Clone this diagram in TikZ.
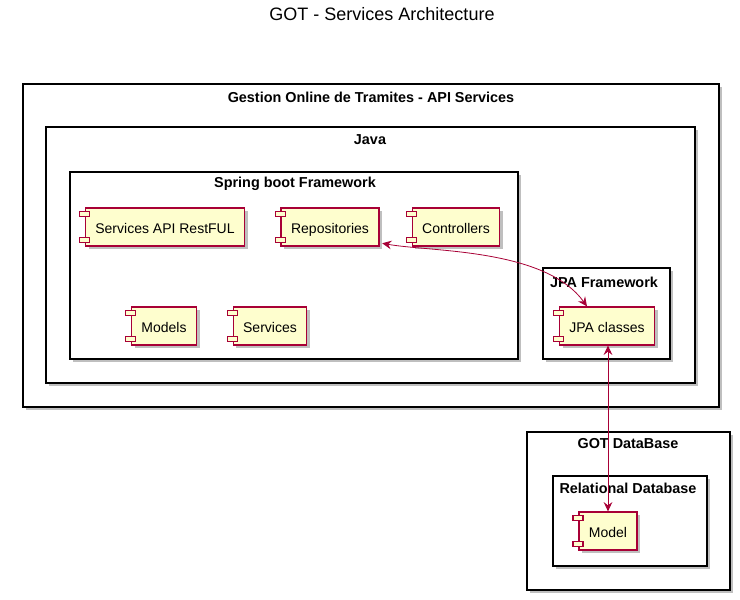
\documentclass[tikz,border=0pt]{standalone}
\usepackage{fontspec}
\setmainfont{Liberation Sans}
\usetikzlibrary{arrows.meta, positioning}

\definecolor{umlred}{HTML}{A80036}
\definecolor{umlfill}{HTML}{FEFECE}

\begin{document}
\begin{tikzpicture}[
    x=0.75pt, y=-0.75pt,
    dropshade/.style={preaction={fill=black!25, transform canvas={shift={(2.5pt,-2.5pt)}}}},
    pkg/.style={draw, line width=1.1pt, fill=white, dropshade},
    pkgtitle/.style={font=\bfseries\fontsize{10.8}{12}\selectfont, inner sep=0pt},
    comp/.style={
        draw=umlred,
        fill=umlfill,
        line width=0.9pt,
        dropshade,
        minimum height=28.5pt,
        inner xsep=7.5pt,
        text height=9.4pt,
        text depth=0.2pt,
        font=\fontsize{10.5}{12}\selectfont
    },
    compicon/.style={draw=umlred, fill=umlfill, line width=0.8pt},
    link/.style={{Stealth[length=7pt,width=6.5pt,inset=2.5pt]}-{Stealth[length=7pt,width=6.5pt,inset=2.5pt]}, draw=umlred, line width=0.6pt}
]
\useasboundingbox (0,0) rectangle (740,600);

% === Title ===
\node[font=\fontsize{13.5}{16}\selectfont] (title) at (382,14) {GOT - Services Architecture};

% === Packages ===
\draw[pkg] (23,84) rectangle (719,407);
\node[pkgtitle] (apititle) at (371,97) {Gestion Online de Tramites - API Services};
\draw[pkg] (46,127) rectangle (695,383);
\node[pkgtitle] (javatitle) at (370,140) {Java};
\draw[pkg] (70,172) rectangle (518,359);
\node[pkgtitle] (springtitle) at (295,184) {Spring boot Framework};
\draw[pkg] (543,268) rectangle (670,359);
\node[pkgtitle] (jpatitle) at (604,282) {JPA Framework};
\draw[pkg] (527,432) rectangle (730,590);
\node[pkgtitle] (dbtitle) at (628,444) {GOT DataBase};
\draw[pkg] (553,476) rectangle (707,566);
\node[pkgtitle] (reltitle) at (628,488) {Relational Database};

% === Components ===
\node[comp] (svcapi) at (165,227) {Services API RestFUL};
\node[comp] (repos) at (330,227) {Repositories};
\node[comp] (ctrls) at (456,227) {Controllers};
\node[comp] (models) at (164,326) {Models};
\node[comp] (svcs) at (270,326) {Services};
\node[comp] (jpa) at (607,326) {JPA classes};
\node[comp] (model) at (608,531) {Model};

% component icons
\foreach \c in {svcapi, repos, ctrls, models, svcs, jpa, model}{
    \draw[compicon] ([xshift=-4pt, yshift=-3pt]\c.north west) rectangle ++(7.5pt,-3.75pt);
    \draw[compicon] ([xshift=-4pt, yshift=3pt]\c.south west) rectangle ++(7.5pt,3.75pt);
}

% === Links ===
\draw[link] ([xshift=2pt, yshift=2.5pt]repos.south east)
    .. controls (430,252) and (545,248) .. ([xshift=-15pt]jpa.north);
\draw[link] (model.north |- jpa.south) -- (model.north);

\end{tikzpicture}
\end{document}
